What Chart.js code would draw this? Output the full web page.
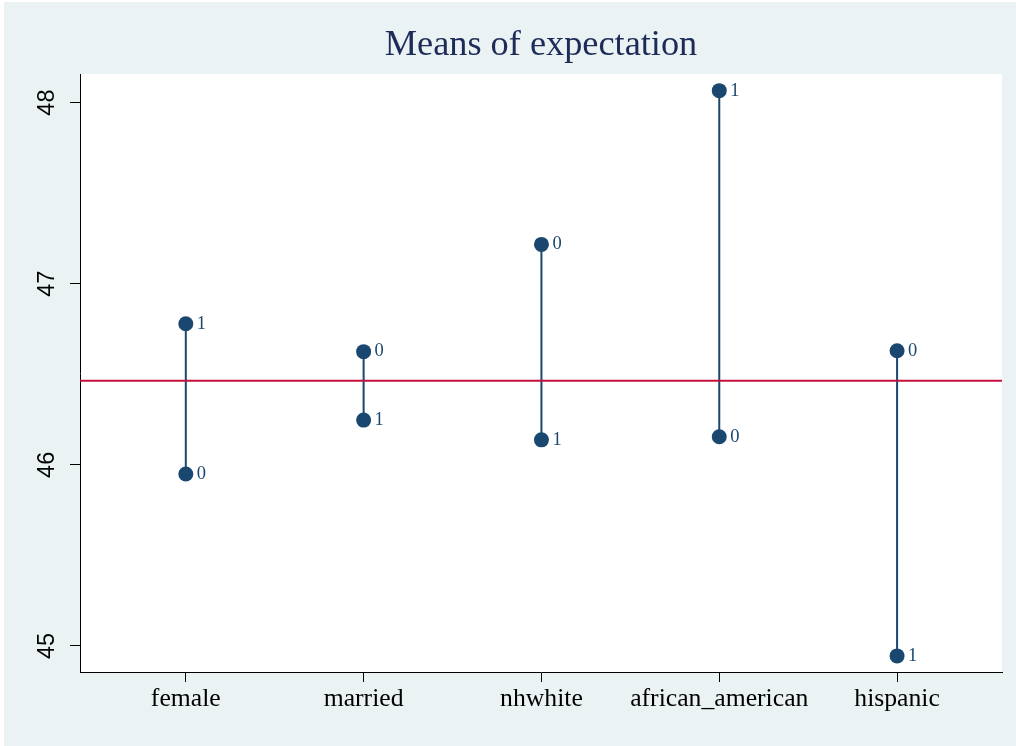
<!DOCTYPE html>
<html>
<head>
<meta charset="utf-8">
<script src="https://cdn.jsdelivr.net/npm/chart.js@4.4.0/dist/chart.umd.min.js"></script>
<style>
  html, body { margin: 0; padding: 0; background: #ffffff; }
  #wrap { position: absolute; left: 4px; top: 2px; width: 1012px; height: 744px; background: #eaf2f3; }
</style>
</head>
<body>
<div id="wrap"><canvas id="myChart" width="1012" height="744"></canvas></div>
<script>
// data
const categories = ['female', 'married', 'nhwhite', 'african_american', 'hispanic'];
const meanGroup0 = [45.949, 46.625, 47.217, 46.155, 46.630];
const meanGroup1 = [46.779, 46.247, 46.138, 48.066, 44.945];
const overallMean = 46.464;
const yTicks = [45, 46, 47, 48];
const groupLabels = ['0', '1'];

const navy = '#1a476f';
const red = '#c4103c';
const xMin = 0.405, xMax = 5.59;

// datasets
const datasets = [{
    data: [{ x: xMin, y: overallMean }, { x: xMax, y: overallMean }],
    borderColor: red,
    borderWidth: 2,
    pointRadius: 0,
    showLine: true
}];
categories.forEach(function (c, i) {
    datasets.push({
        data: [{ x: i + 1, y: meanGroup0[i] }, { x: i + 1, y: meanGroup1[i] }],
        borderColor: navy,
        borderWidth: 2,
        pointRadius: 7.5,
        pointBackgroundColor: navy,
        pointBorderWidth: 0,
        showLine: true
    });
});

// text drawn on top: title, rotated y labels, category labels, group labels
const textPlugin = {
    id: 'textPlugin',
    afterDraw(chart) {
        const ctx = chart.ctx;
        const xs = chart.scales.x, ys = chart.scales.y;
        const area = chart.chartArea;
        ctx.save();
        ctx.fillStyle = '#1c2b57';
        ctx.font = '36.3px "Liberation Serif", "Times New Roman", serif';
        ctx.textAlign = 'center';
        ctx.textBaseline = 'alphabetic';
        ctx.fillText('Means of expectation', (area.left + area.right) / 2, 53);

        ctx.fillStyle = '#000';
        ctx.font = '25.7px "Liberation Serif", "Times New Roman", serif';
        categories.forEach(function (c, i) {
            ctx.fillText(c, xs.getPixelForValue(i + 1), 704);
        });

        ctx.font = '23.5px "Liberation Sans", Arial, sans-serif';
        yTicks.forEach(function (v) {
            ctx.save();
            ctx.translate(50, ys.getPixelForValue(v));
            ctx.rotate(-Math.PI / 2);
            ctx.fillText(String(v), 0, 0);
            ctx.restore();
        });

        ctx.fillStyle = navy;
        ctx.font = '18.5px "Liberation Serif", "Times New Roman", serif';
        ctx.textAlign = 'left';
        ctx.textBaseline = 'middle';
        categories.forEach(function (c, i) {
            const px = xs.getPixelForValue(i + 1) + 11;
            ctx.fillText(groupLabels[0], px, ys.getPixelForValue(meanGroup0[i]));
            ctx.fillText(groupLabels[1], px, ys.getPixelForValue(meanGroup1[i]));
        });
        ctx.restore();
    }
};

const whiteArea = {
    id: 'whiteArea',
    beforeDraw(chart) {
        const a = chart.chartArea;
        chart.ctx.save();
        chart.ctx.fillStyle = '#ffffff';
        chart.ctx.fillRect(a.left, a.top, a.right - a.left, a.bottom - a.top);
        chart.ctx.restore();
    }
};

const config = {
    type: 'scatter',
    data: { datasets: datasets },
    options: {
        responsive: false,
        animation: false,
        layout: { padding: { left: 66, top: 72, right: 14, bottom: 64 } },
        plugins: { legend: { display: false }, tooltip: { enabled: false } },
        scales: {
            x: {
                type: 'linear',
                min: xMin,
                max: xMax,
                afterBuildTicks: function (s) { s.ticks = categories.map(function (c, i) { return { value: i + 1 }; }); },
                ticks: { display: false },
                grid: { drawOnChartArea: false, drawTicks: true, tickLength: 10, color: '#000', lineWidth: 1 },
                border: { display: true, color: '#000', width: 1 }
            },
            y: {
                type: 'linear',
                min: 44.856,
                max: 48.158,
                afterBuildTicks: function (s) { s.ticks = yTicks.map(function (v) { return { value: v }; }); },
                ticks: { display: false },
                grid: { drawOnChartArea: false, drawTicks: true, tickLength: 10, color: '#000', lineWidth: 1 },
                border: { display: true, color: '#000', width: 1 }
            }
        }
    },
    plugins: [whiteArea, textPlugin]
};

const myChart = new Chart(document.getElementById('myChart'), config);
</script>
</body>
</html>
